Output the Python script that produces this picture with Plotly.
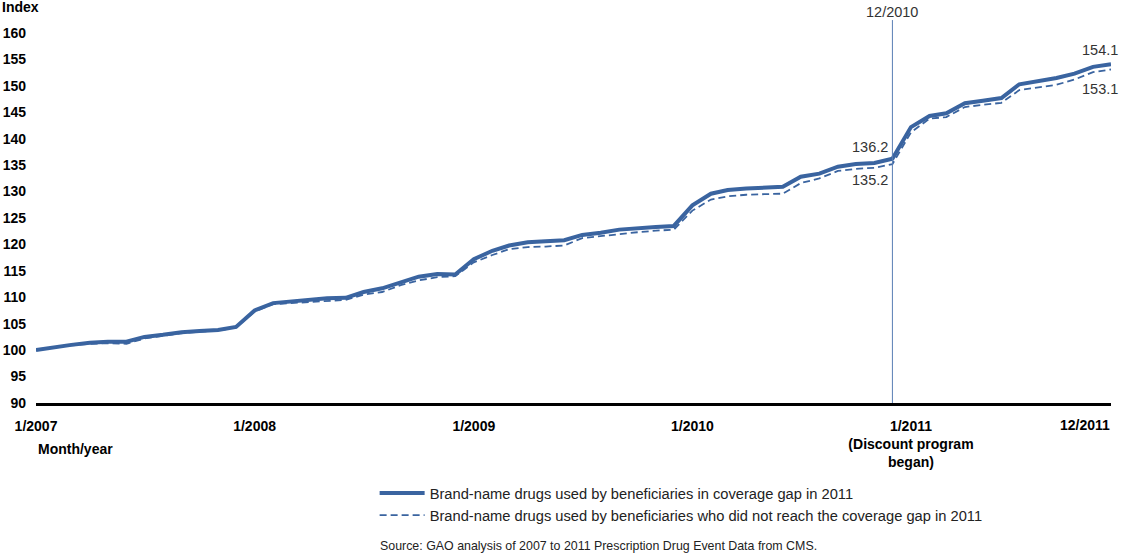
import plotly.graph_objects as go
import pandas as pd

months = pd.date_range("2007-01-01", "2011-12-01", freq="MS")

# index values (1/2007 = 100)
in_gap = [100.0, 100.6, 101.0, 101.4, 101.6, 101.6, 102.5, 102.9, 103.4, 103.6, 103.8, 104.4,
          107.5, 108.9, 109.2, 109.5, 109.8, 109.9, 111.0, 111.7, 112.9, 113.9, 114.4, 114.3,
          117.2, 118.8, 119.8, 120.4, 120.6, 120.8, 121.8, 122.2, 122.8, 123.1, 123.3, 123.5,
          127.4, 129.6, 130.3, 130.6, 130.8, 130.9, 132.8, 133.4, 134.7, 135.2, 135.4, 136.2,
          142.2, 144.3, 144.8, 146.7, 147.2, 147.7, 150.3, 150.9, 151.5, 152.3, 153.6, 154.1]

not_in_gap = [100.0, 100.6, 100.9, 101.2, 101.3, 101.2, 102.2, 102.7, 103.2, 103.5, 103.7, 104.3,
              107.3, 108.7, 108.9, 109.2, 109.4, 109.5, 110.5, 111.0, 112.3, 113.2, 113.8, 114.0,
              116.6, 118.0, 119.1, 119.5, 119.6, 119.8, 121.2, 121.6, 121.9, 122.3, 122.6, 122.8,
              126.4, 128.5, 129.1, 129.4, 129.5, 129.6, 131.6, 132.5, 133.9, 134.3, 134.5, 135.2,
              141.2, 143.8, 144.1, 146.0, 146.4, 146.8, 149.2, 149.7, 150.2, 151.2, 152.6, 153.1]

tick_dates = ["2007-01-01", "2008-01-01", "2009-01-01", "2010-01-01", "2011-01-01"]
tick_text = ["1/2007", "1/2008", "1/2009", "1/2010", "1/2011<br>(Discount program<br>began)"]
y_ticks = list(range(90, 161, 5))

blue = "#3a64a0"
font = "Liberation Sans, Arial, sans-serif"

fig = go.Figure()
fig.add_trace(go.Scatter(x=months, y=in_gap, mode="lines",
                         name="Brand-name drugs used by beneficiaries in coverage gap in 2011",
                         line=dict(color=blue, width=4)))
fig.add_trace(go.Scatter(x=months, y=not_in_gap, mode="lines",
                         name="Brand-name drugs used by beneficiaries who did not reach the coverage gap in 2011",
                         line=dict(color=blue, width=1.8, dash="7px,4px")))

# discount program marker
fig.add_shape(type="line", xref="x", yref="paper", x0="2010-12-01", x1="2010-12-01",
              y0=0, y1=1.035, line=dict(color="#5a7fb5", width=1))

notes = [
    ("2010-12-01", in_gap[47], "136.2", -2, 12),
    ("2010-12-01", not_in_gap[47], "135.2", -2, -16),
    ("2011-12-01", in_gap[59], "154.1", 9, 14),
    ("2011-12-01", not_in_gap[59], "153.1", 9, -20),
]
for x, y, t, dx, dy in notes:
    fig.add_annotation(x=x, y=y, text=t, showarrow=False, xanchor="right", yanchor="middle",
                       xshift=dx, yshift=dy, font=dict(size=14.5, color="#333333"))

fig.add_annotation(x="2010-12-01", y=1.057, yref="paper", text="12/2010", showarrow=False,
                   yanchor="middle", font=dict(size=14.5, color="#333333"))
fig.add_annotation(x="2011-12-01", y=-0.06, yref="paper", text="12/2011", showarrow=False,
                   xanchor="right", yanchor="middle", xshift=1,
                   font=dict(size=14, color="black", weight="bold"))
fig.add_annotation(x=-0.0335, y=1.071, xref="paper", yref="paper", text="Index", showarrow=False,
                   xanchor="left", yanchor="middle", font=dict(size=14, color="black", weight="bold"))
fig.add_annotation(x=0, y=-0.124, xref="paper", yref="paper", text="Month/year", showarrow=False,
                   xanchor="left", yanchor="middle", font=dict(size=14, color="black", weight="bold"))
fig.add_annotation(x=0.318, y=-0.386, xref="paper", yref="paper",
                   text="Source: GAO analysis of 2007 to 2011 Prescription Drug Event Data from CMS.",
                   showarrow=False, xanchor="left", yanchor="middle",
                   font=dict(size=12.4, color="#222222"))

fig.update_layout(
    width=1126, height=556,
    margin=dict(l=36, r=15, t=33, b=153),
    plot_bgcolor="white", paper_bgcolor="white",
    font=dict(family=font, size=14, color="black"),
    showlegend=True,
    legend=dict(x=0.315, y=-0.2, xanchor="left", yanchor="top", itemwidth=45,
                font=dict(size=14.7, color="#222222"), tracegroupgap=0,
                bgcolor="rgba(0,0,0,0)"),
    xaxis=dict(range=["2007-01-01", "2011-12-01"], tickvals=tick_dates, ticktext=tick_text,
               showgrid=False, zeroline=False, showline=True, linecolor="black", linewidth=3,
               ticks="", ticklabelstandoff=8, automargin=False,
               tickfont=dict(size=14, weight="bold")),
    yaxis=dict(range=[90, 160], tickvals=y_ticks, showgrid=False, zeroline=False,
               showline=False, ticks="", ticklabelstandoff=9, automargin=False,
               tickfont=dict(size=14, weight="bold")),
)

# page has a default body margin; drop it so the figure sits at the window corner
fig.write_html("out.html", config={"displayModeBar": False},
               post_script="document.body.style.margin='0';")
